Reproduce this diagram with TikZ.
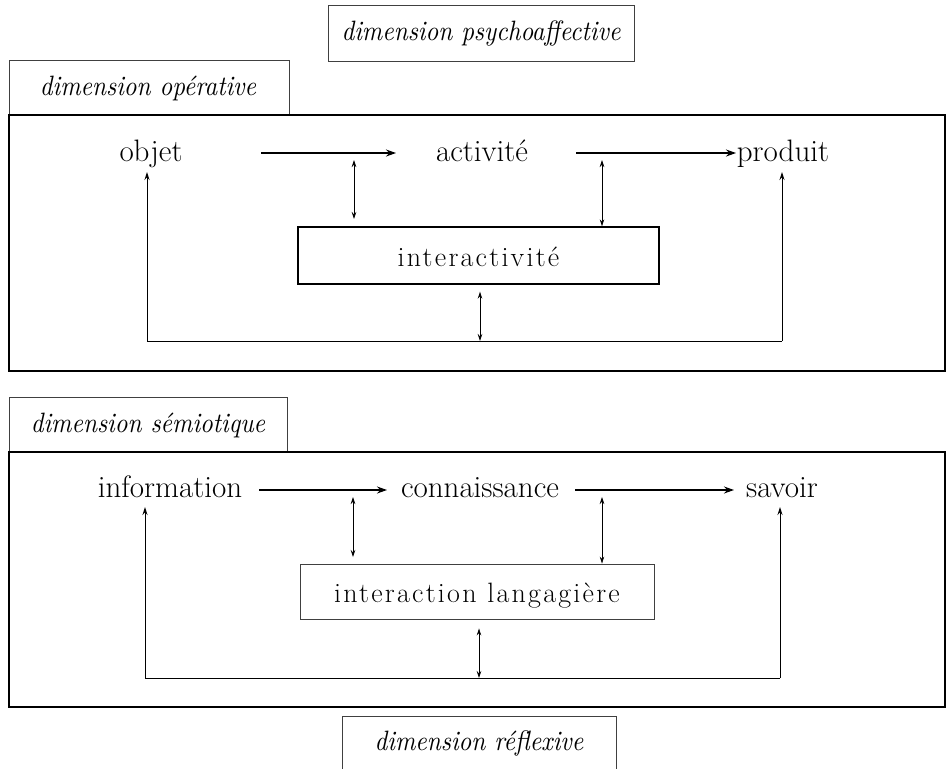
\documentclass[tikz,border=0pt]{standalone}
\usepackage{fontspec}
\usetikzlibrary{arrows.meta}
\newfontfamily\spacedfont[LetterSpace=8]{Latin Modern Roman}
\newfontfamily\labfont[Extension=.otf,FakeStretch=0.89]{lmroman10-italic}
\tikzset{
  lbl/.style={font=\labfont\fontsize{28}{32}\selectfont, anchor=base, inner sep=0pt},
  word/.style={font=\fontsize{31}{36}\selectfont, anchor=base, inner sep=0pt},
  spaced/.style={font=\spacedfont\fontsize{28}{34}\selectfont, anchor=base, inner sep=0pt},
  thinbox/.style={draw=black!75, line width=0.9pt},
  bigbox/.style={draw=black, line width=2.2pt},
  flow/.style={-{Stealth[length=10pt,width=7pt]}, line width=1.2pt},
  dbl/.style={{Stealth[length=7pt,width=4.5pt]}-{Stealth[length=7pt,width=4.5pt]}, line width=0.7pt},
  loop/.style={line width=0.9pt},
  up/.style={-{Stealth[length=8pt,width=5pt]}, line width=0.9pt}
}
\begin{document}
\begin{tikzpicture}[x=1pt,y=-1pt]
\useasboundingbox (0,0) rectangle (946,769);
% ---------- top label
\draw[thinbox] (328,5) rectangle (634,61);
\node[lbl] (psy) at (481,40) {dimension psychoaffective};
% ---------- operative
\draw[thinbox] (9,115) -- (9,60) -- (289,60) -- (289,115);
\node[lbl] (ope) at (148,95) {dimension opérative};
\draw[bigbox] (9,115) rectangle (945,371);
\node[word] (objet) at (151,161) {objet};
\node[word] (activite) at (482,161) {activité};
\node[word] (produit) at (783,161) {produit};
\coordinate (f1s) at (261,153); \coordinate (f1e) at (396,153);
\coordinate (f2s) at (576,153); \coordinate (f2e) at (736,153);
\draw[flow] (f1s) -- (f1e);
\draw[flow] (f2s) -- (f2e);
\node[draw, line width=1.4pt, minimum width=361pt, minimum height=57pt, inner sep=0pt] (inter) at (478.5,255.5) {};
\node[spaced] (intertxt) at (478.5,266) {interactivité};
\coordinate (d1t) at (354,160); \coordinate (d1b) at (354,219);
\coordinate (d2t) at (602,160);
\draw[dbl] (d1t) -- (d1b);
\draw[dbl] (d2t) -- (d2t |- inter.north);
\coordinate (l1) at (147,341); \coordinate (r1) at (782,341);
\coordinate (m1) at (480,341);
\coordinate (ot) at (147,172); \coordinate (pt) at (782,172);
\draw[loop] (l1) -- (r1);
\draw[up] (l1) -- (ot);
\draw[up] (r1) -- (pt);
\draw[dbl] ([yshift=-7pt]m1 |- inter.south) -- (m1);
% ---------- semiotique
\draw[thinbox] (9,452) -- (9,397) -- (287,397) -- (287,452);
\node[lbl] (sem) at (148,432) {dimension sémiotique};
\draw[bigbox, line width=2.5pt] (9,452) rectangle (945,707);
\node[word] (info) at (170,497) {information};
\node[word] (conn) at (480,497) {connaissance};
\node[word] (savoir) at (782,497) {savoir};
\coordinate (g1s) at (259,490); \coordinate (g1e) at (387,490);
\coordinate (g2s) at (575,490); \coordinate (g2e) at (734,490);
\draw[flow] (g1s) -- (g1e);
\draw[flow] (g2s) -- (g2e);
\node[thinbox, minimum width=354pt, minimum height=55pt, inner sep=0pt] (lang) at (477,591.5) {};
\node[spaced] (langtxt) at (477,602) {interaction langagière};
\coordinate (e1t) at (353,497); \coordinate (e1b) at (353,557);
\coordinate (e2t) at (602,497);
\draw[dbl] (e1t) -- (e1b);
\draw[dbl] (e2t) -- (e2t |- lang.north);
\coordinate (l2) at (145,678); \coordinate (r2) at (780,678);
\coordinate (m2) at (479,678);
\coordinate (it) at (145,507); \coordinate (st) at (780,507);
\draw[loop] (l2) -- (r2);
\draw[up] (l2) -- (it);
\draw[up] (r2) -- (st);
\draw[dbl] ([yshift=-9pt]m2 |- lang.south) -- (m2);
% ---------- bottom label
\draw[thinbox] (342,769) -- (342,716) -- (616,716) -- (616,769);
\node[lbl] (refl) at (479,750) {dimension réflexive};
\end{tikzpicture}
\end{document}
